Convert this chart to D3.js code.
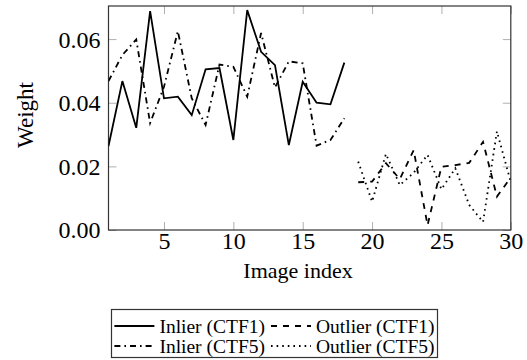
<!DOCTYPE html>
<html><head><meta charset="utf-8">
<script src="https://cdn.jsdelivr.net/npm/d3@7"></script>
<style>
body{margin:0;background:#fff;}
svg text{font-family:"Liberation Serif";}
</style>
</head><body>
<svg id="c" width="527" height="360"></svg>
<script>
// ---- data ----
const inlierIdx = [1,2,3,4,5,6,7,8,9,10,11,12,13,14,15,16,17,18];
const outlierIdx = [19,20,21,22,23,24,25,26,27,28,29,30];
const inlierCTF1 = [0.0264,0.0468,0.0321,0.0688,0.0414,0.0419,0.0361,0.0505,0.0509,0.0283,0.0691,0.0560,0.0518,0.0267,0.0466,0.0400,0.0395,0.0526];
const inlierCTF5 = [0.0468,0.0550,0.0599,0.0336,0.0450,0.0625,0.0414,0.0330,0.0520,0.0513,0.0419,0.0619,0.0448,0.0530,0.0524,0.0265,0.0283,0.0351];
const outlierCTF1 = [0.0150,0.0152,0.0210,0.0160,0.0251,0.0015,0.0199,0.0204,0.0211,0.0277,0.0105,0.0165];
const outlierCTF5 = [0.0215,0.0089,0.0239,0.0141,0.0180,0.0236,0.0128,0.0194,0.0079,0.0025,0.0310,0.0150];
const xTicks = [5,10,15,20,25,30];
const yTicks = [0,0.02,0.04,0.06];
const yTickLabels = ["0.00","0.02","0.04","0.06"];
const seriesNames = ["Inlier (CTF1)","Outlier (CTF1)","Inlier (CTF5)","Outlier (CTF5)"];
const xLabel = "Image index", yLabel = "Weight";

// ---- layout ----
const FONT = '"Liberation Serif"';
const L=108.5, R=510.8, T=6, B=230;
const x = d3.scaleLinear().domain([1,30]).range([L,R]);
const y = d3.scaleLinear().domain([0,0.0704]).range([B,T]);
const svg = d3.select("#c");
const dash = {solid:null, dashed:"6,6", dashdot:"6,4,1.6,4", dotted:"1.6,4"};
const series = [
  {name:seriesNames[0], xs:inlierIdx, ys:inlierCTF1, d:dash.solid},
  {name:seriesNames[1], xs:outlierIdx, ys:outlierCTF1, d:dash.dashed},
  {name:seriesNames[2], xs:inlierIdx, ys:inlierCTF5, d:dash.dashdot},
  {name:seriesNames[3], xs:outlierIdx, ys:outlierCTF5, d:dash.dotted}
];

svg.append("defs").append("clipPath").attr("id","clip")
  .append("rect").attr("x",L).attr("y",T).attr("width",R-L).attr("height",B-T);

// axes with inward ticks
const tickLen = 8;
const gB = svg.append("g").attr("transform",`translate(0,${B})`)
  .call(d3.axisBottom(x).tickValues(xTicks).tickSizeInner(-tickLen).tickSizeOuter(0).tickFormat(d3.format("d")));
const gT = svg.append("g").attr("transform",`translate(0,${T})`)
  .call(d3.axisTop(x).tickValues(xTicks).tickSizeInner(-tickLen).tickSizeOuter(0).tickFormat(""));
const gL = svg.append("g").attr("transform",`translate(${L},0)`)
  .call(d3.axisLeft(y).tickValues(yTicks).tickSizeInner(-tickLen).tickSizeOuter(0).tickFormat((d,i)=>yTickLabels[i]));
const gR = svg.append("g").attr("transform",`translate(${R},0)`)
  .call(d3.axisRight(y).tickValues(yTicks).tickSizeInner(-tickLen).tickSizeOuter(0).tickFormat(""));
[gB,gT,gL,gR].forEach(g=>{
  g.attr("font-family",null).attr("font-size",null);
  g.select(".domain").remove();
  g.selectAll(".tick line").attr("stroke","#b0b0b0").attr("stroke-width",1);
  g.selectAll("text").attr("fill","#000").style("font-family",FONT).style("font-size","24px");
});
gB.selectAll(".tick text").attr("y",19).attr("dy",null);
gL.selectAll(".tick text").attr("x",-8).attr("dy","0.33em");

// frame
svg.append("rect").attr("x",L).attr("y",T).attr("width",R-L).attr("height",B-T)
  .attr("fill","none").attr("stroke","#333").attr("stroke-width",1.2);

// lines
const line = d3.line().x(d=>x(d[0])).y(d=>y(d[1]));
const gLines = svg.append("g").attr("clip-path","url(#clip)");
series.forEach(s=>{
  gLines.append("path").datum(s.xs.map((v,i)=>[v,s.ys[i]]))
    .attr("d",line).attr("fill","none").attr("stroke","#000")
    .attr("stroke-width",1.8).attr("stroke-linejoin","miter")
    .attr("stroke-dasharray",s.d);
});

// axis labels
svg.append("text").attr("x",298).attr("y",278).attr("text-anchor","middle")
  .style("font-family",FONT).style("font-size","22px").text(xLabel);
svg.append("text").attr("transform","translate(33,115) rotate(-90)").attr("text-anchor","middle")
  .style("font-family",FONT).style("font-size","23px").text(yLabel);

// legend (layout measured from the text)
const boxX=111.5, boxW=326, boxY=309.5, boxH=48;
const lg = svg.append("g");
lg.append("rect").attr("x",boxX).attr("y",boxY).attr("width",boxW).attr("height",boxH)
  .attr("fill","#fff").attr("stroke","#333").attr("stroke-width",1.2);
const fs = "19.5px", sample = 40, gapS = 5, gapC = 6;
const texts = series.map((s,i)=>lg.append("text").style("font-family",FONT).style("font-size",fs).text(s.name));
const wCol1 = Math.max(texts[0].node().getComputedTextLength(), texts[2].node().getComputedTextLength());
const wCol2 = Math.max(texts[1].node().getComputedTextLength(), texts[3].node().getComputedTextLength());
const total = sample+gapS+wCol1+gapC+sample+gapS+wCol2;
const start = boxX + (boxW-total)/2;
const cols=[start, start+sample+gapS+wCol1+gapC], rows=[326,346];
series.forEach((s,i)=>{
  const c=cols[i%2], r=rows[Math.floor(i/2)];
  lg.append("line").attr("x1",c).attr("x2",c+sample).attr("y1",r).attr("y2",r)
    .attr("stroke","#000").attr("stroke-width",1.8).attr("stroke-dasharray",s.d);
  texts[i].attr("x",c+sample+gapS).attr("y",r+6.5);
});
</script>
</body></html>
